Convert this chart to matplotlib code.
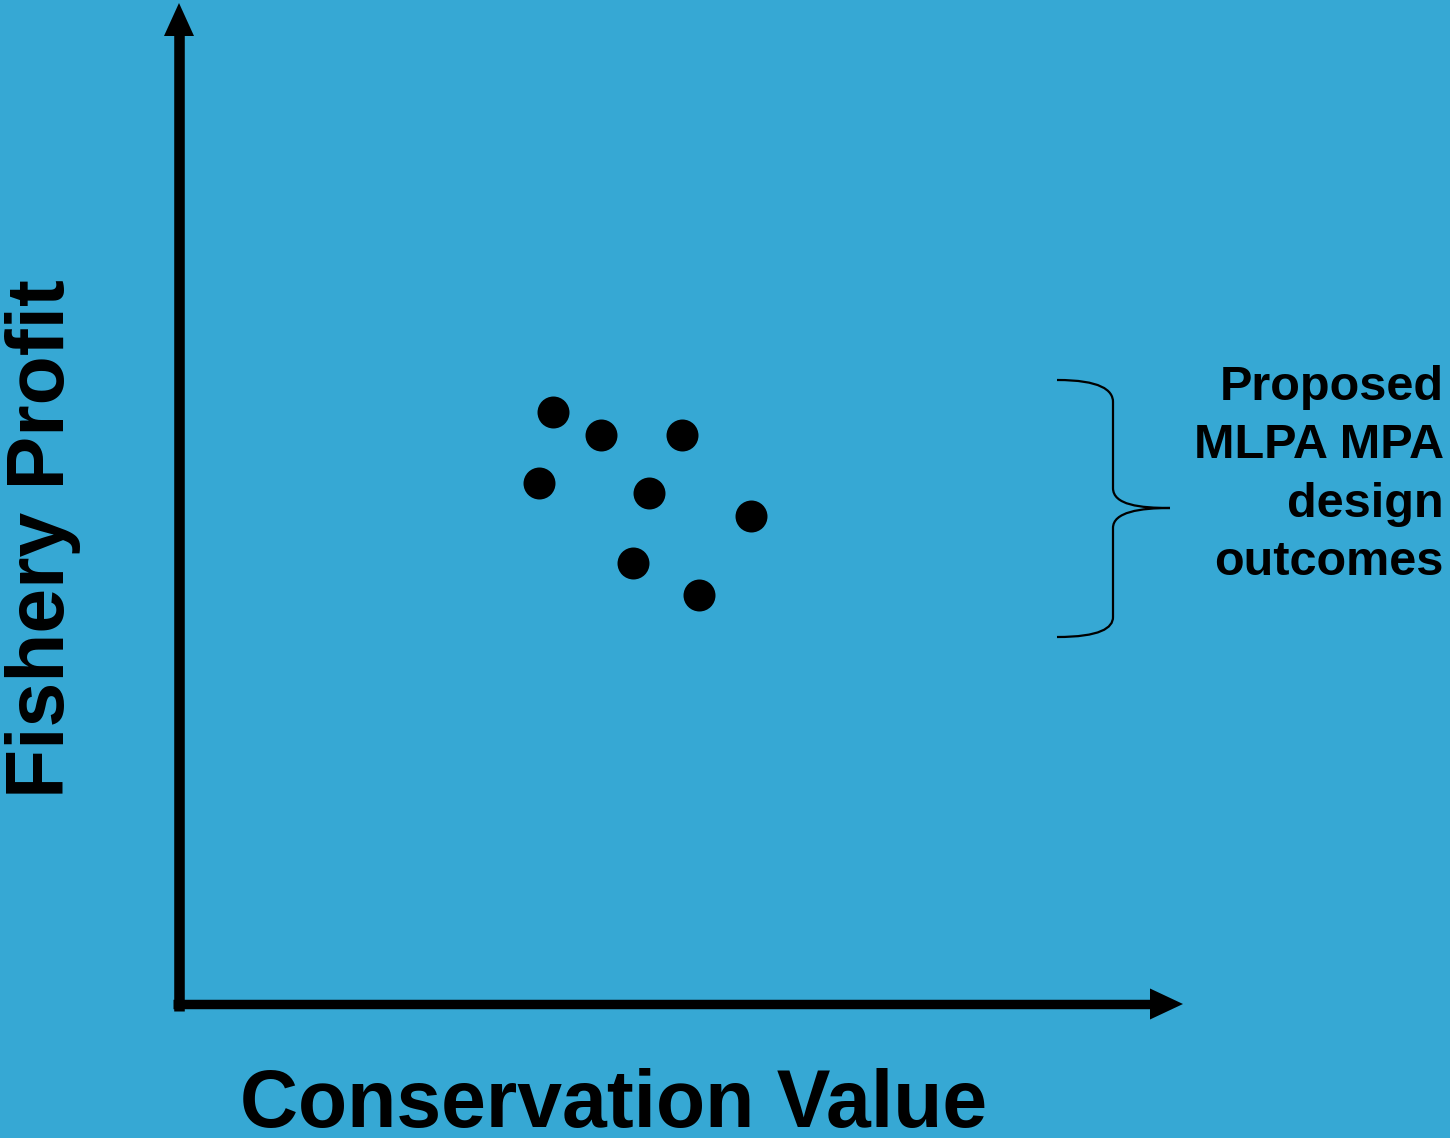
import matplotlib
matplotlib.use("Agg")
import matplotlib.pyplot as plt
from matplotlib.patches import FancyArrow, PathPatch
from matplotlib.path import Path

# MLPA design outcomes (arbitrary units, 0-10 on both axes)
conservation = [3.74, 4.22, 5.02, 3.60, 4.70, 5.71, 4.54, 5.19]
profit = [5.93, 5.70, 5.70, 5.22, 5.12, 4.89, 4.42, 4.10]

x_label = "Conservation Value"
y_label = "Fishery Profit"
bracket_label = "Proposed\nMLPA MPA\ndesign\noutcomes"

BG = "#36A8D4"
W, H = 1450, 1138
plt.rcParams["font.family"] = ["Liberation Sans", "DejaVu Sans"]

fig = plt.figure(figsize=(W / 100, H / 100), dpi=100, facecolor=BG)

# overlay in pixel coords for the hand-drawn axes / brace / labels
ov = fig.add_axes([0, 0, 1, 1])
ov.set_xlim(0, W); ov.set_ylim(H, 0); ov.axis("off")
ov.patch.set_alpha(0)

# data axes: origin at the axis corner
ax = fig.add_axes([179 / W, (H - 1005) / H, 1001 / W, 1000 / H])
ax.set_xlim(0, 10); ax.set_ylim(0, 10); ax.axis("off")
ax.patch.set_alpha(0)
ax.scatter(conservation, profit, s=530, color="black", linewidths=0, zorder=3)

# axis arrows
ov.plot([179, 179], [1011, 33], color="black", lw=7.6, solid_capstyle="butt")
ov.plot([173, 1152], [1004, 1004], color="black", lw=6.8, solid_capstyle="butt")
ov.add_patch(FancyArrow(179, 36, 0, -33, width=0, head_width=30, head_length=33,
                        length_includes_head=True, color="black", lw=0))
ov.add_patch(FancyArrow(1150, 1004, 33, 0, width=0, head_width=31, head_length=33,
                        length_includes_head=True, color="black", lw=0))

# curly brace
verts = [(1057, 380), (1100, 380), (1113, 390), (1113, 402),
         (1113, 488),
         (1113, 505), (1140, 508), (1170, 508),
         (1140, 508), (1113, 512), (1113, 528),
         (1113, 617),
         (1113, 628), (1100, 637), (1057, 637)]
codes = [Path.MOVETO, Path.CURVE4, Path.CURVE4, Path.CURVE4,
         Path.LINETO,
         Path.CURVE4, Path.CURVE4, Path.CURVE4,
         Path.CURVE4, Path.CURVE4, Path.CURVE4,
         Path.LINETO,
         Path.CURVE4, Path.CURVE4, Path.CURVE4]
ov.add_patch(PathPatch(Path(verts, codes), fill=False, lw=1.6, color="black"))

ov.text(1444, 475, bracket_label, ha="right", va="center", fontsize=35,
        fontweight="bold", linespacing=1.38)
ov.text(614, 1106, x_label, ha="center", va="center", fontsize=58, fontweight="bold")
ov.text(43, 539, y_label, ha="center", va="center", rotation=90, fontsize=58,
        fontweight="bold")

fig.savefig("out.png", dpi=100, facecolor=BG)
